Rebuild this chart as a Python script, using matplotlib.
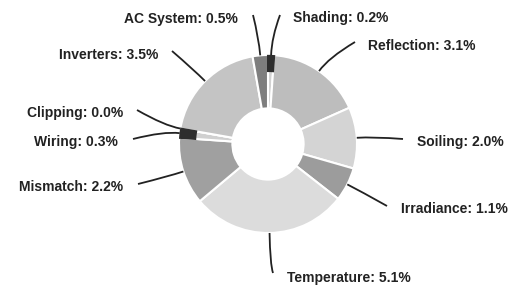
import matplotlib
matplotlib.use("Agg")
import matplotlib.pyplot as plt
import numpy as np
from matplotlib.path import Path
from matplotlib.patches import PathPatch

# ---- data ----
categories = ["Shading", "Reflection", "Soiling", "Irradiance", "Temperature",
              "Mismatch", "Wiring", "Clipping", "Inverters", "AC System"]
losses = [0.2, 3.1, 2.0, 1.1, 5.1, 2.2, 0.3, 0.0, 3.5, 0.5]
colors = ["#d2d2d2", "#bdbdbd", "#d4d4d4", "#9c9c9c", "#dcdcdc",
          "#a0a0a0", "#d0d0d0", "#d0d0d0", "#c4c4c4", "#7e7e7e"]
band_colors = ["#2e2e2e", "none", "none", "none", "none",
               "none", "#2e2e2e", "none", "none", "none"]

# ---- layout (pixel space) ----
W, H = 522, 288
cx, cy, R = 268, 144, 89
hole = 0.40
# label anchor: (line end x, line end y, text x, text y, ha)
label_pos = {
    "Shading":     (280, 15, 293, 18, "left"),
    "AC System":   (253, 15, 238, 19, "right"),
    "Reflection":  (355, 42, 368, 46, "left"),
    "Soiling":     (403, 139, 417, 142, "left"),
    "Irradiance":  (387, 206, 401, 209, "left"),
    "Temperature": (273, 273, 287, 278, "left"),
    "Mismatch":    (138, 184, 123, 187, "right"),
    "Wiring":      (133, 139, 118, 142, "right"),
    "Clipping":    (137, 110, 123, 113, "right"),
    "Inverters":   (172, 51, 158, 55, "right"),
}
ctrl_scale = {"Temperature": 1.35, "Shading": 1.2, "AC System": 1.2}

fig = plt.figure(figsize=(W / 100, H / 100), dpi=100)
ax = fig.add_axes([0, 0, 1, 1])
ax.set_xlim(0, W)
ax.set_ylim(0, H)
ax.axis("off")

wedges, _ = ax.pie(losses, colors=colors, startangle=90, counterclock=False,
                   center=(cx, H - cy), radius=R, frame=True,
                   wedgeprops=dict(width=R * (1 - hole), edgecolor="white", linewidth=1.5))
ax.pie(losses, colors=["white"] * len(losses), startangle=90, counterclock=False,
       center=(cx, H - cy), radius=R, frame=True,
       wedgeprops=dict(width=R * 0.2, edgecolor="none", linewidth=0, alpha=0))
band, _ = ax.pie(losses, startangle=90, counterclock=False,
                 center=(cx, H - cy), radius=R * 0.99, frame=True,
                 wedgeprops=dict(width=R * 0.17, linewidth=0))
for w, c in zip(band, band_colors):
    if c == "none":
        w.set_visible(False)
    else:
        w.set_facecolor(c)
        w.set_edgecolor(c)
        w.set_linewidth(1.5)

ax.set_xlim(0, W)
ax.set_ylim(0, H)
ax.set_aspect("equal")
ax.axis("off")

for w, name, val in zip(wedges, categories, losses):
    ang = np.deg2rad((w.theta1 + w.theta2) / 2)
    ex, ey, tx, ty, ha = label_pos[name]
    ey, ty = H - ey, H - ty
    x0, y0 = cx + R * np.cos(ang), (H - cy) + R * np.sin(ang)
    k = ctrl_scale.get(name, 1.18)
    x1, y1 = cx + R * k * np.cos(ang), (H - cy) + R * k * np.sin(ang)
    path = Path([(x0, y0), (x1, y1), (ex, ey)],
                [Path.MOVETO, Path.CURVE3, Path.CURVE3])
    ax.add_patch(PathPatch(path, facecolor="none", edgecolor="#222222", lw=1.3))
    ax.text(tx, ty, f"{name}: {val:.1f}%", ha=ha, va="center",
            fontsize=10, fontweight="bold", color="#222222",
            family=["Liberation Sans", "DejaVu Sans"])

fig.savefig("out.png", dpi=100, facecolor="white")
